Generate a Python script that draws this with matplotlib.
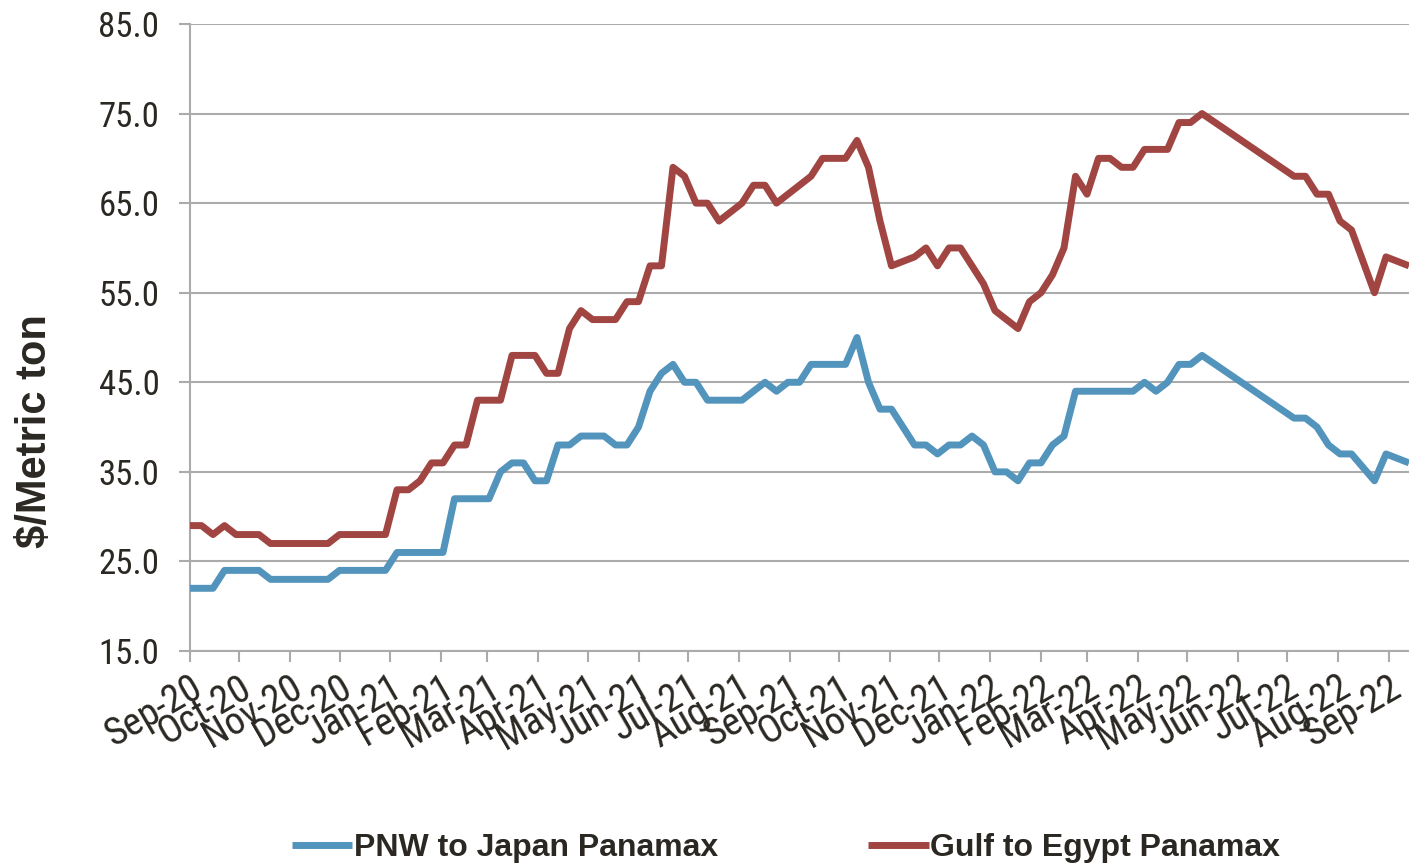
import os
import matplotlib
matplotlib.use("Agg")
import matplotlib.pyplot as plt
import matplotlib.dates as mdates
from matplotlib import font_manager
from matplotlib.font_manager import FontProperties
import numpy as np
import pandas as pd

# Weekly ocean freight rates, $/metric ton (None = no quote that week)
week_start = "2020-09-01"
n_weeks = 107

pnw_japan = [22, 22, 22, 24, 24, 24, 24, 23, 23, 23,
             23, 23, 23, 24, 24, 24, 24, 24, 26, 26,
             26, 26, 26, 32, 32, 32, 32, 35, 36, 36,
             34, 34, 38, 38, 39, 39, 39, 38, 38, 40,
             44, 46, 47, 45, 45, 43, 43, 43, 43, 44,
             45, 44, 45, 45, 47, 47, 47, 47, 50, 45,
             42, 42, 40, 38, 38, 37, 38, 38, 39, 38,
             35, 35, 34, 36, 36, 38, 39, 44, 44, 44,
             44, 44, 44, 45, 44, 45, 47, 47, 48,
             None, None, None, None, None, None, None,
             41, 41, 40, 38, 37, 37, 35.5, 34, 37, 36.5, 36]

gulf_egypt = [29, 29, 28, 29, 28, 28, 28, 27, 27, 27,
              27, 27, 27, 28, 28, 28, 28, 28, 33, 33,
              34, 36, 36, 38, 38, 43, 43, 43, 48, 48,
              48, 46, 46, 51, 53, 52, 52, 52, 54, 54,
              58, 58, 69, 68, 65, 65, 63, 64, 65, 67,
              67, 65, 66, 67, 68, 70, 70, 70, 72, 69,
              63, 58, 58.5, 59, 60, 58, 60, 60, 58, 56,
              53, 52, 51, 54, 55, 57, 60, 68, 66, 70,
              70, 69, 69, 71, 71, 71, 74, 74, 75,
              None, None, None, None, None, None, None,
              68, 68, 66, 66, 63, 62, 58.5, 55, 59, 58.5, 58]

series_names = ["PNW to Japan Panamax", "Gulf to Egypt Panamax"]
series_colors = ["#5394BD", "#A04542"]
y_ticks = [15, 25, 35, 45, 55, 65, 75, 85]

text_color = "#2b2823"
grid_color = "#ABABAB"


def narrow_font_file():
    """Pick a regular-weight narrow/condensed sans file for the axis numbers."""
    files = {os.path.basename(f.fname).lower(): f.fname
             for f in font_manager.fontManager.ttflist}
    preferred = ["liberationsansnarrow-regular.ttf",
                 "robotocondensed-regular.ttf",
                 "roboto_condensed-regular.ttf",
                 "notosans-condensed.ttf",
                 "notosans-condensedregular.ttf",
                 "opensans-condensedregular.ttf",
                 "opensans_condensed-regular.ttf",
                 "dejavusanscondensed.ttf"]
    for p in preferred:
        if p in files:
            return files[p]
    return None


font_file = narrow_font_file()
if font_file is None:
    ytick_font = FontProperties(family="DejaVu Sans", stretch="condensed", size=24)
    xtick_font = FontProperties(family="DejaVu Sans", stretch="condensed", size=26)
else:
    ytick_font = FontProperties(fname=font_file, size=25)
    xtick_font = FontProperties(fname=font_file, size=28)

names = {f.name for f in font_manager.fontManager.ttflist}
bold_family = "Liberation Sans" if "Liberation Sans" in names else "DejaVu Sans"

dates = pd.date_range(week_start, periods=n_weeks, freq="7D")

fig = plt.figure(figsize=(14.09, 8.65), dpi=100)
ax = fig.add_axes([190 / 1409, 1 - 651 / 865, 1 - 190 / 1409, (651 - 24) / 865])

for vals, name, col in zip([pnw_japan, gulf_egypt], series_names, series_colors):
    arr = np.array([np.nan if v is None else v for v in vals], dtype=float)
    ok = ~np.isnan(arr)
    ax.plot(dates[ok], arr[ok], color=col, lw=5.0, label=name,
            solid_joinstyle="round", solid_capstyle="butt", zorder=3)

ax.set_ylim(15, 85)
ax.set_yticks(y_ticks)
ax.set_yticklabels([f"{v:.1f}" for v in y_ticks])
ax.set_xlim(dates[0], dates[-1])
ax.xaxis.set_major_locator(mdates.MonthLocator())
ax.xaxis.set_major_formatter(mdates.DateFormatter("%b-%y"))

ax.grid(axis="y", color=grid_color, lw=1.5, zorder=0)
ax.grid(axis="x", visible=False)
for s in ["top", "right"]:
    ax.spines[s].set_visible(False)
for s in ["left", "bottom"]:
    ax.spines[s].set_color(grid_color)
    ax.spines[s].set_linewidth(1.5)

ax.tick_params(axis="y", direction="out", length=8, width=1.5, color=grid_color, pad=14)
ax.tick_params(axis="x", direction="out", length=8, width=1.5, color=grid_color, pad=5)
for lab in ax.get_yticklabels():
    lab.set_fontproperties(ytick_font)
    lab.set_color(text_color)
for lab in ax.get_xticklabels():
    lab.set_fontproperties(xtick_font)
    lab.set_color(text_color)
    lab.set_rotation(30)
    lab.set_rotation_mode("anchor")
    lab.set_ha("right")
    lab.set_va("top")

ax.set_ylabel("$/Metric ton", fontsize=30, fontweight="bold", family=bold_family,
              color=text_color)
ax.yaxis.set_label_coords(-0.111, 0.351)

fig.legend(loc="center", bbox_to_anchor=(786 / 1409, 1 - 848 / 865), ncol=2,
           frameon=False, handlelength=1.9, handletextpad=0.05, columnspacing=4.7,
           prop={"family": bold_family, "weight": "bold", "size": 23},
           labelcolor=text_color)

fig.savefig("out.png", dpi=100)
